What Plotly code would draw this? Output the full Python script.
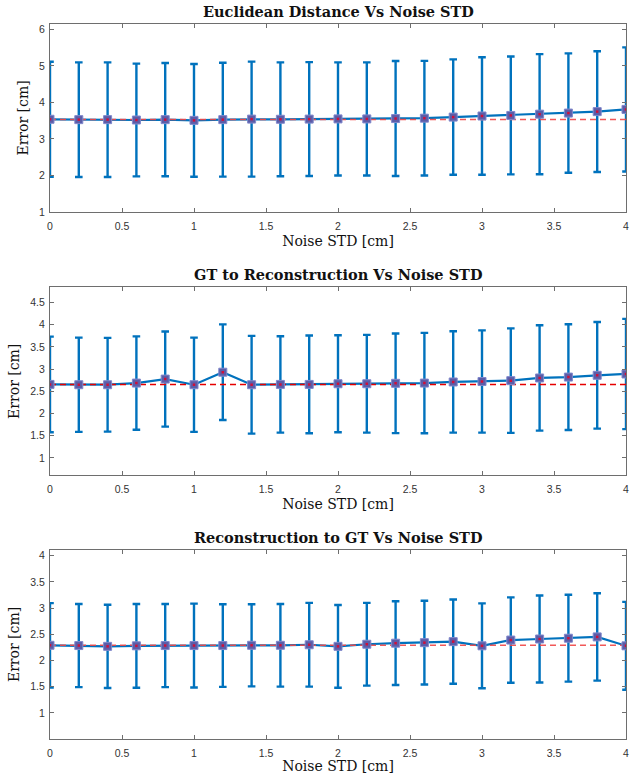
import plotly.graph_objects as go

# ---------------- data ----------------
noise_std = [0.0, 0.2, 0.4, 0.6, 0.8, 1.0, 1.2, 1.4, 1.6, 1.8, 2.0,
             2.2, 2.4, 2.6, 2.8, 3.0, 3.2, 3.4, 3.6, 3.8, 4.0]

titles = ["Euclidean Distance Vs Noise STD",
          "GT to Reconstruction Vs Noise STD",
          "Reconstruction to GT Vs Noise STD"]

euclid_mean = [3.54, 3.53, 3.53, 3.52, 3.53, 3.51, 3.53, 3.545, 3.54, 3.545, 3.55,
               3.55, 3.56, 3.57, 3.60, 3.63, 3.645, 3.68, 3.71, 3.75, 3.81]
euclid_std = [1.575, 1.57, 1.57, 1.545, 1.55, 1.545, 1.56, 1.575, 1.56, 1.56, 1.55,
              1.55, 1.575, 1.57, 1.58, 1.61, 1.615, 1.645, 1.635, 1.655, 1.70]
euclid_base = 3.535

gt2rec_mean = [2.655, 2.648, 2.648, 2.685, 2.775, 2.648, 2.93, 2.648, 2.655, 2.655, 2.67,
               2.67, 2.68, 2.685, 2.71, 2.72, 2.74, 2.80, 2.82, 2.86, 2.89]
gt2rec_std = [1.075, 1.06, 1.055, 1.05, 1.07, 1.06, 1.075, 1.10, 1.085, 1.10, 1.09,
              1.10, 1.12, 1.13, 1.14, 1.15, 1.175, 1.185, 1.19, 1.20, 1.24]
gt2rec_base = 2.655

rec2gt_mean = [2.29, 2.285, 2.27, 2.28, 2.285, 2.285, 2.285, 2.29, 2.29, 2.30, 2.27,
               2.31, 2.33, 2.34, 2.36, 2.28, 2.39, 2.41, 2.425, 2.45, 2.28]
rec2gt_std = [0.805, 0.795, 0.795, 0.80, 0.795, 0.80, 0.79, 0.785, 0.79, 0.80, 0.79,
              0.79, 0.80, 0.80, 0.805, 0.81, 0.815, 0.83, 0.83, 0.835, 0.84]
rec2gt_base = 2.29

y_ranges = [[1.0, 6.15], [0.61, 4.84], [0.5, 4.11]]
y_ticks = [[1, 2, 3, 4, 5, 6],
           [1, 1.5, 2, 2.5, 3, 3.5, 4, 4.5],
           [1, 1.5, 2, 2.5, 3, 3.5, 4]]
x_ticks = [0, 0.5, 1, 1.5, 2, 2.5, 3, 3.5, 4]
x_label = "Noise STD [cm]"
y_label = "Error [cm]"

means = [euclid_mean, gt2rec_mean, rec2gt_mean]
stds = [euclid_std, gt2rec_std, rec2gt_std]
bases = [euclid_base, gt2rec_base, rec2gt_base]

# ---------------- layout geometry ----------------
W, H = 635, 774
x_dom = [50 / W, 626 / W]
# (top px, bottom px) of each plot area
panels_px = [(24, 212), (287.3, 475.3), (550, 739)]
y_doms = [[1 - b / H, 1 - t / H] for (t, b) in panels_px]
dash_colors = ["rgba(240,70,70,0.9)", "rgba(230,0,0,1)", "rgba(240,70,70,0.9)"]

BLUE = "#0072BD"
AXC = "#6e6e6e"
TICKFONT = dict(family="Liberation Sans, Arial, sans-serif", size=10.5, color="#333333")
SERIF = "DejaVu Serif, Liberation Serif, serif"

fig = go.Figure()
layout = dict(
    width=W, height=H,
    margin=dict(l=0, r=0, t=0, b=0, autoexpand=False),
    paper_bgcolor="white", plot_bgcolor="white",
    showlegend=False,
    annotations=[],
)

for i in range(3):
    xa = "x" if i == 0 else f"x{i+1}"
    ya = "y" if i == 0 else f"y{i+1}"
    # error bar + connecting line
    fig.add_trace(go.Scatter(
        x=noise_std, y=means[i], mode="lines",
        line=dict(color=BLUE, width=2.2),
        error_y=dict(type="data", array=stds[i], visible=True,
                     color=BLUE, thickness=2.4, width=3.8),
        xaxis=xa, yaxis=ya, hoverinfo="skip"))
    # dashed baseline
    fig.add_trace(go.Scatter(
        x=[noise_std[0], noise_std[-1]], y=[bases[i], bases[i]], mode="lines",
        line=dict(color=dash_colors[i], width=1.5, dash="6px,4px"),
        xaxis=xa, yaxis=ya, hoverinfo="skip"))
    # square markers
    fig.add_trace(go.Scatter(
        x=noise_std, y=means[i], mode="markers",
        marker=dict(symbol="square", size=8, color="#5B5DA8",
                    line=dict(color="#8088CC", width=1)),
        xaxis=xa, yaxis=ya, hoverinfo="skip"))
    # red centre dots
    fig.add_trace(go.Scatter(
        x=noise_std, y=means[i], mode="markers",
        marker=dict(symbol="square", size=2.5, color="#D0103A"),
        xaxis=xa, yaxis=ya, hoverinfo="skip"))

    xkey = "xaxis" if i == 0 else f"xaxis{i+1}"
    ykey = "yaxis" if i == 0 else f"yaxis{i+1}"
    layout[xkey] = dict(
        domain=x_dom, anchor=ya, range=[0, 4],
        tickvals=x_ticks, ticktext=[f"{v:g}" for v in x_ticks],
        ticks="inside", ticklen=4, tickcolor=AXC, tickwidth=1,
        showline=True, linecolor=AXC, linewidth=1, mirror="ticks",
        showgrid=False, zeroline=False, tickfont=TICKFONT,
        ticklabelstandoff=4, automargin=False,
        title=dict(text=x_label, font=dict(family=SERIF, size=14, color="#111111"),
                   standoff=5),
    )
    layout[ykey] = dict(
        domain=y_doms[i], anchor=xa, range=y_ranges[i],
        tickvals=y_ticks[i], ticktext=[f"{v:g}" for v in y_ticks[i]],
        ticks="inside", ticklen=4, tickcolor=AXC, tickwidth=1,
        showline=True, linecolor=AXC, linewidth=1, mirror="ticks",
        showgrid=False, zeroline=False, tickfont=TICKFONT,
        ticklabelstandoff=2, automargin=False,
        title=dict(text=y_label, font=dict(family=SERIF, size=14, color="#111111"),
                   standoff=7),
    )
    layout["annotations"].append(dict(
        text="<b>" + titles[i] + "</b>", xref="paper", yref="paper",
        x=(x_dom[0] + x_dom[1]) / 2, y=y_doms[i][1], yanchor="bottom", xanchor="center",
        yshift=2, showarrow=False,
        font=dict(family=SERIF, size=14.5, color="#111111")))

fig.update_layout(**layout)
fig.write_html("out.html")
